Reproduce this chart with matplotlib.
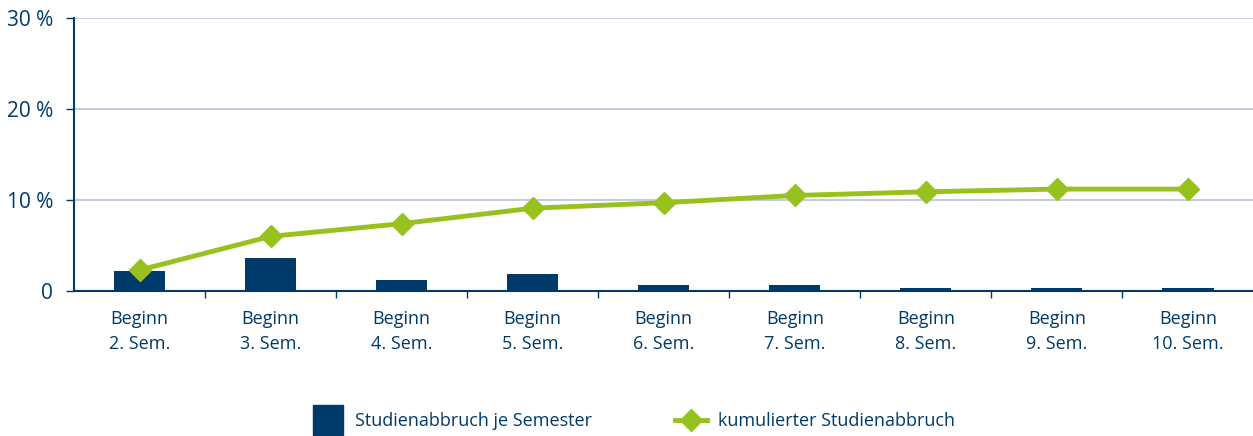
import numpy as np
import matplotlib.pyplot as plt
from matplotlib.lines import Line2D

# data
categories = ["Beginn\n2. Sem.", "Beginn\n3. Sem.", "Beginn\n4. Sem.", "Beginn\n5. Sem.",
              "Beginn\n6. Sem.", "Beginn\n7. Sem.", "Beginn\n8. Sem.", "Beginn\n9. Sem.",
              "Beginn\n10. Sem."]
per_semester = [2.2, 3.6, 1.2, 1.9, 0.65, 0.65, 0.3, 0.3, 0.3]
cumulative = [2.3, 6.0, 7.4, 9.1, 9.7, 10.5, 10.9, 11.2, 11.2]
y_ticks = [0, 10, 20, 30]
y_ticklabels = ["0", "10 %", "20 %", "30 %"]
legend_labels = ["Studienabbruch je Semester", "kumulierter Studienabbruch"]

NAVY = "#003a6a"
GREEN = "#97c21d"
GRID = "#b8c3da"

plt.rcParams['font.family'] = ['Open Sans', 'DejaVu Sans']

fig = plt.figure(figsize=(12.53, 4.36), dpi=100)
ax = fig.add_axes([74 / 1253, 1 - 291 / 436, (1253.5 - 74) / 1253, (291 - 18) / 436])

x = np.arange(len(categories))
ax.bar(x, per_semester, width=0.39, color=NAVY, zorder=2)
ax.plot(x, cumulative, color=GREEN, linewidth=3.5, marker="D", markersize=11,
        zorder=3, clip_on=False)

ax.set_xlim(-0.5, len(categories) - 0.5)
ax.set_ylim(0, 30)
ax.set_yticks(y_ticks)
ax.set_yticklabels(y_ticklabels)
ax.yaxis.grid(True, color=GRID, linewidth=1.2, zorder=0)
ax.set_axisbelow(True)

# category labels at centres, tick marks between categories
ax.set_xticks(x)
ax.set_xticklabels(categories, fontsize=13, color=NAVY, linespacing=1.5)
ax.tick_params(axis="x", length=0, pad=14)
ax.set_xticks(np.arange(0.5, len(categories) - 0.5, 1), minor=True)
ax.tick_params(axis="x", which="minor", length=5, direction="out", color=NAVY, width=1)
ax.tick_params(axis="y", length=6, direction="out", color=NAVY, width=1,
               labelsize=15, labelcolor=NAVY, pad=9)

for side in ["top", "right"]:
    ax.spines[side].set_visible(False)
for side in ["left", "bottom"]:
    ax.spines[side].set_color(NAVY)
    ax.spines[side].set_linewidth(1.5)

handles = [
    Line2D([], [], color=NAVY, marker="s", linestyle="none", markersize=22),
    Line2D([], [], color=GREEN, marker="D", linewidth=3.5, markersize=11),
]
fig.legend(handles, legend_labels, loc="center", bbox_to_anchor=(0.5055, 1 - 421 / 436),
           ncol=2, frameon=False, fontsize=13, labelcolor=NAVY, columnspacing=4.6,
           handlelength=1.8, handletextpad=0.6)

fig.savefig("out.png", dpi=100)
